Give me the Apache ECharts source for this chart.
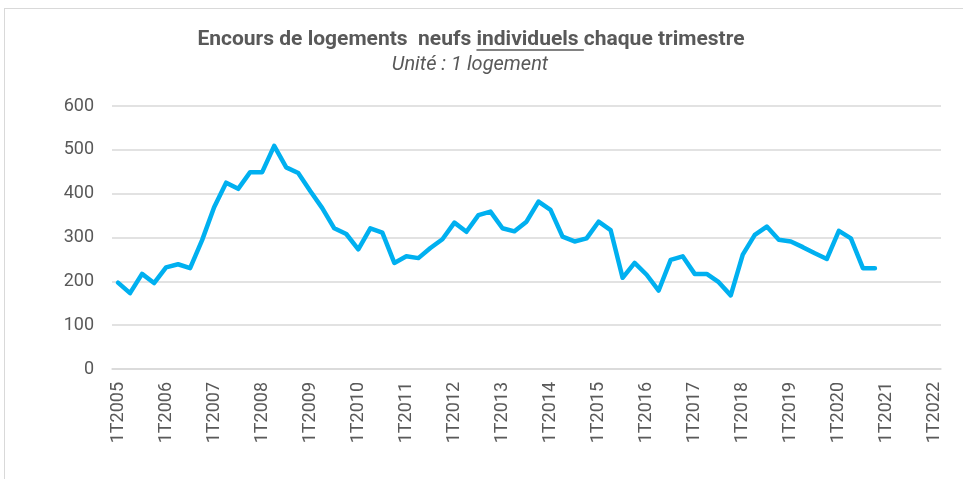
<!DOCTYPE html>
<html>
<head>
<meta charset="utf-8">
<script src="https://cdn.jsdelivr.net/npm/echarts@6/dist/echarts.min.js"></script>
<style>
  html, body { margin: 0; padding: 0; background: #fff; }
  #frame { position: absolute; left: 4px; top: 8px; width: 1100px; height: 600px; border: 1px solid #d9d9d9; }
  #main { position: absolute; left: 0; top: 0; width: 963px; height: 479px; }
</style>
</head>
<body>
<div id="frame"></div>
<div id="main"></div>
<script>
// quarters 1T2005 .. 1T2022
const years = [];
for (let y = 2005; y <= 2022; y++) years.push(y);
const categories = [];
years.forEach(function (y) {
  for (let q = 1; q <= 4; q++) {
    if (y === 2022 && q > 1) break;
    categories.push(q + 'T' + y);
  }
});

// encours de logements neufs individuels, 1T2005 -> 4T2020
const encours = [
  197, 173, 217, 196, 232, 239, 230, 294,
  369, 425, 411, 449, 449, 509, 460, 447,
  406, 367, 321, 308, 273, 321, 311, 242,
  257, 253, 276, 296, 334, 313, 351, 359,
  321, 314, 336, 382, 363, 302, 291, 298,
  336, 317, 208, 242, 215, 179, 249, 257,
  217, 217, 198, 168, 261, 306, 325, 295,
  291, 278, 264, 251, 315, 298, 230, 230
];

const yTicks = [0, 100, 200, 300, 400, 500, 600];

const titleParts = ['Encours de logements  neufs ', 'individuels ', ' chaque trimestre'.trim()];
const subTitle = 'Unité : 1 logement';

// title measures, for the underline under "individuels "
const titleFont = 'bold 21px Roboto';
const titleX = 471;
const ctx = document.createElement('canvas').getContext('2d');
ctx.font = titleFont;
const fullW = ctx.measureText(titleParts.join('')).width;
const preW = ctx.measureText(titleParts[0]).width;
const wordW = ctx.measureText(titleParts[1]).width;
const ulX1 = titleX - fullW / 2 + preW;
const ulX2 = ulX1 + wordW;

const chart = echarts.init(document.getElementById('main'));

const option = {
  animation: false,
  textStyle: { fontFamily: 'Roboto' },
  grid: {
    left: 112,
    right: 22,
    top: 106,
    bottom: 110
  },
  xAxis: {
    type: 'category',
    data: categories,
    boundaryGap: true,
    axisLine: { show: true, lineStyle: { color: '#d9d9d9', width: 1.5 } },
    axisTick: { show: false },
    axisLabel: {
      interval: 3,
      rotate: 90,
      margin: 13,
      fontSize: 18,
      color: '#595959'
    },
    splitLine: { show: false }
  },
  yAxis: {
    type: 'value',
    min: yTicks[0],
    max: yTicks[yTicks.length - 1],
    interval: 100,
    axisLine: { show: false },
    axisTick: { show: false },
    axisLabel: { fontSize: 18, color: '#595959', margin: 18 },
    splitLine: { lineStyle: { color: '#d9d9d9', width: 1.5 } }
  },
  series: [
    {
      name: 'Encours',
      type: 'line',
      data: encours,
      symbol: 'none',
      lineStyle: { color: '#00B0F0', width: 4.5, cap: 'round', join: 'round' }
    }
  ],
  graphic: [
    {
      type: 'text',
      x: titleX,
      y: 40,
      style: {
        text: titleParts.join(''),
        font: titleFont,
        fill: '#595959',
        textAlign: 'center',
        textVerticalAlign: 'middle'
      }
    },
    {
      type: 'line',
      shape: { x1: ulX1, y1: 50, x2: ulX2, y2: 50 },
      style: { stroke: '#595959', lineWidth: 1.3 }
    },
    {
      type: 'text',
      x: 470,
      y: 65,
      style: {
        text: subTitle,
        font: 'italic 20px Roboto',
        fill: '#595959',
        textAlign: 'center',
        textVerticalAlign: 'middle'
      }
    }
  ]
};

chart.setOption(option);
</script>
</body>
</html>
